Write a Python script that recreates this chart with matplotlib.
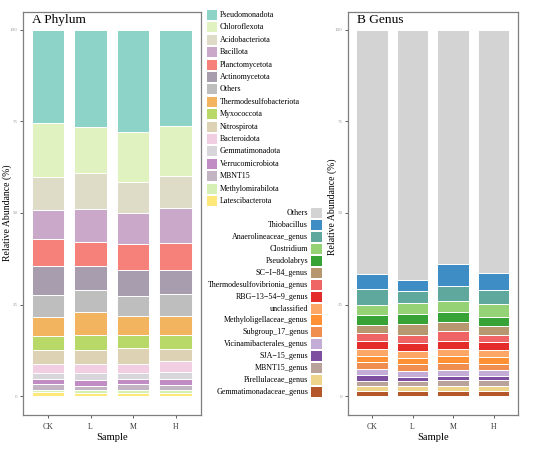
import matplotlib
matplotlib.use("Agg")
import matplotlib.pyplot as plt
from matplotlib.patches import Rectangle
import numpy as np

plt.rcParams["font.family"] = ["Liberation Serif", "DejaVu Serif"]

SAMPLES = ["CK", "L", "M", "H"]

# Phylum level (legend order = top of the stack first)
PHYLA = [
    "Pseudomonadota", "Chloroflexota", "Acidobacteriota", "Bacillota",
    "Planctomycetota", "Actinomycetota", "Others", "Thermodesulfobacteriota",
    "Myxococcota", "Nitrospirota", "Bacteroidota", "Gemmatimonadota",
    "Verrucomicrobiota", "MBNT15", "Methylomirabilota", "Latescibacterota",
]
PHYLUM_CK = [25.5, 14.7, 9.1, 7.9, 7.2, 8.0, 6.1, 5.1, 3.9, 3.7, 2.4, 1.7, 1.5, 1.4, 0.7, 1.1]
PHYLUM_L = [26.5, 12.6, 9.7, 9.0, 6.8, 6.3, 6.1, 6.4, 4.0, 3.7, 2.7, 1.7, 1.8, 1.1, 0.7, 0.9]
PHYLUM_M = [27.9, 13.7, 8.4, 8.4, 7.2, 7.0, 5.5, 5.3, 3.5, 4.4, 2.3, 1.6, 1.5, 1.5, 0.8, 1.0]
PHYLUM_H = [26.2, 13.6, 8.8, 9.5, 7.5, 6.6, 5.9, 5.1, 3.8, 3.5, 2.8, 1.9, 1.7, 1.3, 0.8, 1.0]
PHYLUM_COLORS = [
    "#8DD3C7", "#DFF2BF", "#DEDBC6", "#C9A8C9", "#F5817A", "#A89DAF",
    "#BEBEBE", "#F3B45F", "#B8D968", "#DED2B5", "#F1CEE1", "#D9D6DB",
    "#C18BC4", "#C2B4C2", "#D6EFB5", "#FEE87A",
]

# Genus level
GENERA = [
    "Others", "Thiobacillus", "Anaerolineaceae_genus", "Clostridium",
    "Pseudolabrys", "SC\u2212I\u221284_genus", "Thermodesulfovibrionia_genus",
    "RBG\u221213\u221254\u22129_genus", "unclassified", "Methyloligellaceae_genus",
    "Subgroup_17_genus", "Vicinamibacterales_genus", "SJA\u221215_genus",
    "MBNT15_genus", "Pirellulaceae_genus", "Gemmatimonadaceae_genus",
]
GENUS_CK = [66.7, 4.1, 4.3, 2.7, 2.7, 2.2, 2.2, 2.2, 1.8, 1.9, 1.9, 1.6, 1.5, 1.3, 1.4, 1.5]
GENUS_L = [68.3, 2.9, 3.4, 3.0, 2.8, 2.8, 2.4, 2.0, 1.9, 1.8, 1.8, 1.6, 1.2, 1.2, 1.4, 1.5]
GENUS_M = [63.8, 6.0, 4.2, 2.9, 2.8, 2.4, 2.8, 2.2, 2.0, 1.9, 1.9, 1.5, 1.3, 1.4, 1.5, 1.4]
GENUS_H = [66.3, 4.6, 4.0, 3.4, 2.6, 2.3, 2.1, 2.1, 1.9, 1.8, 1.8, 1.6, 1.2, 1.4, 1.4, 1.5]
GENUS_COLORS = [
    "#D3D3D3", "#3E8DC4", "#5FA89E", "#95D275", "#37A236", "#B69770",
    "#EF6566", "#E42C2A", "#FDA766", "#FF9033", "#F08E4F", "#C3ACD6",
    "#7E4EA1", "#B9A299", "#EDD48A", "#B4572B",
]

W, H = 550, 451
BORDER = "#7F7F7F"


def fx(px):
    return px / W


def fy(py):
    return 1 - py / H


def stacked(ax, names, table, colors):
    table = np.array(table)  # samples x taxa
    x = np.arange(1, len(SAMPLES) + 1)
    bottom = np.zeros(len(SAMPLES))
    for j in range(len(names) - 1, -1, -1):
        ax.bar(x, table[:, j], bottom=bottom, width=0.77, color=colors[j],
               edgecolor="white", linewidth=0.7, zorder=2)
        bottom += table[:, j]
    ax.set_xlim(0.4, 4.6)
    ax.set_ylim(-5, 105)
    ax.set_xticks(x)
    ax.set_xticklabels(SAMPLES, fontsize=5.6, color="#333333")
    ax.set_yticks([0, 25, 50, 75, 100])
    ax.set_yticklabels(["0", "25", "50", "75", "100"], fontsize=3.6, color="#9A9A9A")
    ax.tick_params(axis="both", length=2.2, width=0.6, color="#444444", pad=1.5)
    ax.tick_params(axis="x", pad=4)
    for s in ax.spines.values():
        s.set_color(BORDER)
        s.set_linewidth(0.9)
    ax.set_xlabel("Sample", fontsize=7.6, labelpad=1.5)


fig = plt.figure(figsize=(5.5, 4.51), dpi=100)

top, bot = 11.5, 414.5
axA = fig.add_axes([fx(22.5), fy(bot), fx(201) - fx(22.5), fy(top) - fy(bot)])
axB = fig.add_axes([fx(347.7), fy(bot), fx(517.8) - fx(347.7), fy(top) - fy(bot)])

stacked(axA, PHYLA, [PHYLUM_CK, PHYLUM_L, PHYLUM_M, PHYLUM_H], PHYLUM_COLORS)
stacked(axB, GENERA, [GENUS_CK, GENUS_L, GENUS_M, GENUS_H], GENUS_COLORS)

fig.text(fx(32), fy(20), "A Phylum", fontsize=9.6, ha="left", va="center")
fig.text(fx(357), fy(20), "B Genus", fontsize=9.6, ha="left", va="center")

fig.text(fx(7), fy(213), "Relative Abundance (%)", rotation=90, fontsize=7,
         ha="center", va="center")
fig.text(fx(332), fy(207), "Relative Abundance (%)", rotation=90, fontsize=7,
         ha="center", va="center")

# legend A (right of panel A)
for i, (name, col) in enumerate(zip(PHYLA, PHYLUM_COLORS)):
    yc = 15 + 12.4 * i
    fig.patches.append(Rectangle((fx(207), fy(yc + 5)), fx(10), 10 / H,
                                 transform=fig.transFigure, facecolor=col,
                                 edgecolor="none"))
    fig.text(fx(220), fy(yc), name, fontsize=5.8, ha="left", va="center")

# legend B (left of panel B)
for i, (name, col) in enumerate(zip(GENERA, GENUS_COLORS)):
    yc = 213 + 11.94 * i
    fig.patches.append(Rectangle((fx(311), fy(yc + 5)), fx(11), 10 / H,
                                 transform=fig.transFigure, facecolor=col,
                                 edgecolor="none"))
    fig.text(fx(308), fy(yc), name, fontsize=5.8, ha="right", va="center")

fig.savefig("out.png", dpi=100)
